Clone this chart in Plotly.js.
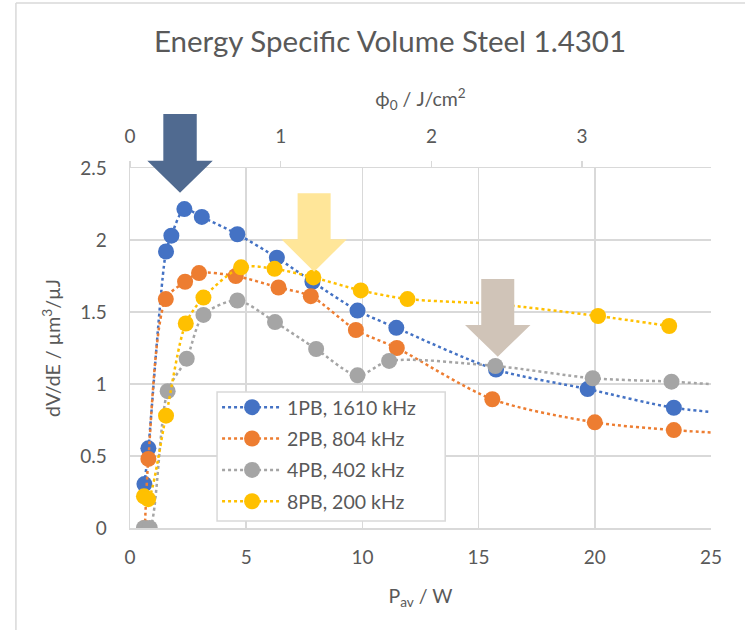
<!DOCTYPE html>
<html>
<head>
<meta charset="utf-8">
<script src="https://cdn.plot.ly/plotly-3.0.1.min.js"></script>
<style>
  html, body { margin: 0; padding: 0; background: #ffffff; }
  #chart { width: 745px; height: 630px; }
</style>
</head>
<body>
<div id="chart"></div>
<script>
// Average power (W) and energy-specific volume (µm³/µJ) per burst mode
const pb1_power = [0.62, 0.79, 1.55, 1.78, 2.34, 3.09, 4.62, 6.32, 7.85, 9.79, 11.46, 15.75, 19.69, 23.4, 27.0];
const pb1_dvde  = [0.305, 0.553, 1.92, 2.03, 2.215, 2.16, 2.04, 1.877, 1.71, 1.51, 1.39, 1.10, 0.965, 0.835, 0.78];

const pb2_power = [0.64, 0.79, 1.54, 2.37, 2.97, 4.55, 6.39, 7.78, 9.72, 11.48, 15.59, 20.0, 23.4, 27.0];
const pb2_dvde  = [0.0, 0.48, 1.59, 1.71, 1.77, 1.75, 1.67, 1.61, 1.375, 1.25, 0.894, 0.734, 0.68, 0.646];

const pb4_power = [0.6, 0.85, 1.62, 2.44, 3.16, 4.62, 6.24, 8.01, 9.79, 11.15, 15.72, 19.91, 23.3, 27.0];
const pb4_dvde  = [0.0, 0.0, 0.95, 1.176, 1.48, 1.58, 1.43, 1.243, 1.06, 1.16, 1.125, 1.04, 1.016, 0.977];

const pb8_power = [0.6, 0.78, 1.55, 2.40, 3.16, 4.78, 6.22, 7.89, 9.93, 11.94, 15.7, 20.14, 23.2];
const pb8_dvde  = [0.22, 0.20, 0.78, 1.42, 1.60, 1.81, 1.80, 1.74, 1.65, 1.59, 1.555, 1.472, 1.403];

const seriesNames = ["1PB, 1610 kHz", "2PB, 804 kHz", "4PB, 402 kHz", "8PB, 200 kHz"];
const seriesColors = ["#4472C4", "#ED7D31", "#A5A5A5", "#FFC000"];

// Power axis range and conversion to peak fluence on the top axis
const powerMax = 25;
const wattsPerFluence = 6.485;   // W per J/cm²

const FONT = "Lato, 'Open Sans', sans-serif";
const TEXT = "#595959";
const GRID = "#D9D9D9";

const data = [
  [pb1_power, pb1_dvde],
  [pb2_power, pb2_dvde],
  [pb4_power, pb4_dvde],
  [pb8_power, pb8_dvde]
].map(function (s, i) {
  return {
    type: "scatter",
    mode: "lines+markers",
    x: s[0],
    y: s[1],
    name: seriesNames[i],
    legendgroup: "g" + i,
    line: { color: seriesColors[i], width: 2.5, dash: "dot", shape: "spline", smoothing: 0.8 },
    marker: { color: seriesColors[i], size: 16, line: { width: 0 } },
    cliponaxis: true,
    hoverinfo: "x+y+name"
  };
});

// empty trace that binds the fluence axis (top) to the plot
data.push({
  type: "scatter", mode: "markers", x: [], y: [],
  xaxis: "x2", yaxis: "y", showlegend: false, hoverinfo: "skip"
});

// Plot-area pixel geometry, used to place the arrow callouts in paper units
const L = 130, R = 710.6, T = 168, B = 528;
function px(x) { return (x - L) / (R - L); }
function py(y) { return (B - y) / (B - T); }

function arrow(cx, shaftHalf, headHalf, top, headBase, tip, color) {
  const p = [
    [cx - shaftHalf, top], [cx + shaftHalf, top], [cx + shaftHalf, headBase],
    [cx + headHalf, headBase], [cx, tip], [cx - headHalf, headBase],
    [cx - shaftHalf, headBase]
  ];
  const path = "M" + p.map(function (q) { return px(q[0]) + "," + py(q[1]); }).join(" L") + " Z";
  return {
    type: "path", xref: "paper", yref: "paper", path: path,
    fillcolor: color, line: { width: 0 }, layer: "above"
  };
}

const shapes = [
  // chart frame edges
  { type: "line", xref: "paper", yref: "paper", x0: px(16), x1: px(16), y0: py(3), y1: py(630),
    line: { color: GRID, width: 1.5 } },
  { type: "line", xref: "paper", yref: "paper", x0: px(16), x1: px(745), y0: py(3), y1: py(3),
    line: { color: GRID, width: 1.5 } },
  // legend frame
  { type: "rect", xref: "paper", yref: "paper", x0: px(217), x1: px(445), y0: py(521), y1: py(392),
    fillcolor: "#ffffff", line: { color: GRID, width: 1.5 }, layer: "above" },
  arrow(180, 16.7, 32.7, 114, 160.7, 192.7, "#506A90"),
  arrow(314, 16.5, 32.7, 193.3, 239.3, 271.7, "#FFE699"),
  arrow(497.5, 16.5, 32.7, 279, 325, 356.7, "#D0C4B8")
];

const layout = {
  width: 745,
  height: 630,
  margin: { l: L, r: 745 - R, t: T, b: 630 - B, pad: 0 },
  paper_bgcolor: "#ffffff",
  plot_bgcolor: "#ffffff",
  font: { family: FONT, color: TEXT, size: 19 },
  title: {
    text: "Energy Specific Volume Steel 1.4301",
    font: { family: FONT, size: 29.5, color: TEXT },
    x: 390 / 745, xanchor: "center", xref: "container",
    y: 1 - 42 / 630, yanchor: "middle", yref: "container"
  },
  showlegend: true,
  legend: {
    x: px(217), y: py(388), xanchor: "left", yanchor: "top",
    bgcolor: "rgba(0,0,0,0)", borderwidth: 0,
    font: { family: FONT, size: 19.5, color: TEXT },
    tracegroupgap: 3,
    itemwidth: 60
  },
  xaxis: {
    range: [0, powerMax], dtick: 5, tick0: 0,
    showgrid: true, gridcolor: GRID, gridwidth: 1.5,
    zeroline: false, showline: true, linecolor: GRID, linewidth: 1.5,
    ticks: "", ticklabelstandoff: 12,
    tickfont: { family: FONT, size: 19, color: TEXT },
    title: { text: "P<sub>av</sub> / W", font: { family: FONT, size: 19.5, color: TEXT }, standoff: 22 }
  },
  xaxis2: {
    overlaying: "x", side: "top", anchor: "y",
    range: [0, powerMax / wattsPerFluence], dtick: 1, tick0: 0,
    showgrid: false, zeroline: false, showline: true, linecolor: GRID, linewidth: 1.5,
    ticks: "outside", ticklen: 6, tickwidth: 1.5, tickcolor: GRID, ticklabelstandoff: 10,
    tickfont: { family: FONT, size: 19, color: TEXT },
    title: { text: "ϕ<sub>0</sub> / J/cm<sup>2</sup>", font: { family: FONT, size: 19.5, color: TEXT }, standoff: 12 }
  },
  yaxis: {
    range: [0, 2.5], dtick: 0.5, tick0: 0,
    showgrid: true, gridcolor: GRID, gridwidth: 1.5,
    zeroline: false, showline: true, linecolor: GRID, linewidth: 1.5,
    ticks: "", ticklabelstandoff: 18,
    tickfont: { family: FONT, size: 19, color: TEXT },
    title: { text: "dV/dE / µm<sup>3</sup>/µJ", font: { family: FONT, size: 19.5, color: TEXT }, standoff: 14 }
  },
  shapes: shapes
};

Plotly.newPlot("chart", data, layout, { displayModeBar: false, staticPlot: true });
</script>
</body>
</html>
